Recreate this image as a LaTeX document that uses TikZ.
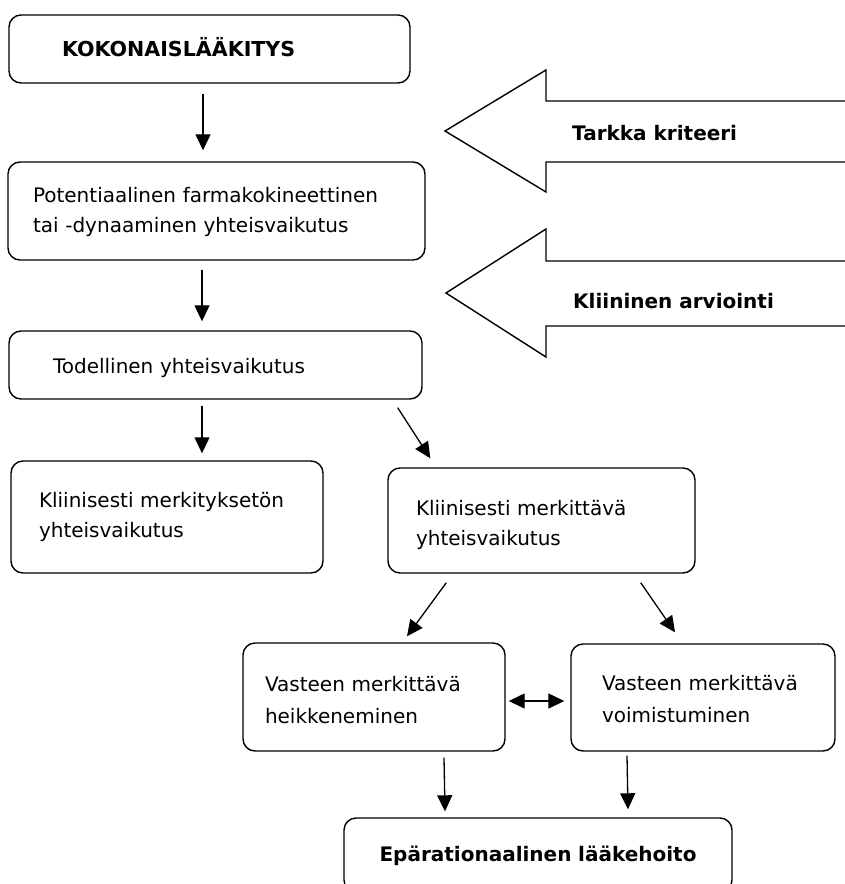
\documentclass[tikz,border=0pt]{standalone}
\usepackage{fontspec}
\setmainfont{DejaVu Sans}
\usetikzlibrary{arrows.meta}
\newcommand{\bodyfont}[1]{\fontsize{20}{#1}\selectfont}
\begin{document}
\begin{tikzpicture}[x=1pt,y=-1pt,
  box/.style={draw, line width=1.4pt, rounded corners=12pt, align=left, inner ysep=0pt, font=\bodyfont{30}},
  conn/.style={-{Triangle[length=16pt,width=15pt]}, line width=1.3pt},
  dconn/.style={{Triangle[length=16pt,width=15pt]}-{Triangle[length=16pt,width=15pt]}, line width=1.3pt},
  bigarrow/.style={draw, line width=1.4pt, line join=miter},
  lbl/.style={font=\bfseries\bodyfont{24}, anchor=west, inner sep=0pt}]
\useasboundingbox (0,0) rectangle (845,884);
\clip (0,0) rectangle (845,884);

% big arrows
\draw[bigarrow] (850,101) -- (546,101) -- (546,70) -- (445,131) -- (546,192) -- (546,162) -- (850,162);
\draw[bigarrow] (850,261) -- (546,261) -- (546,229) -- (446,293) -- (546,357) -- (546,326) -- (850,326);
\node[lbl] (t1) at (572,133) {Tarkka kriteeri};
\node[lbl] (t2) at (573,301) {Kliininen arviointi};

% boxes
\node[box, font=\bfseries\fontsize{20.6}{24}\selectfont, text height=14pt, text depth=0pt, minimum width=401pt, minimum height=68pt, text width=295pt, inner xsep=53pt] (b1) at (209.5,49) {KOKONAISLÄÄKITYS};
\node[box, text height=17pt, text depth=35pt, minimum width=417pt, minimum height=98pt, text width=367pt, inner xsep=25pt] (b2) at (216.5,211) {Potentiaalinen farmakokineettinen\\tai -dynaaminen yhteisvaikutus};
\node[box, text height=21pt, text depth=5pt, minimum width=413pt, minimum height=68pt, text width=325pt, inner xsep=44pt] (b3) at (215.5,365) {Todellinen yhteisvaikutus};
\node[box, text height=15pt, text depth=35pt, minimum width=312pt, minimum height=112pt, text width=256pt, inner xsep=28pt] (b4) at (167,517) {Kliinisesti merkityksetön\\yhteisvaikutus};
\node[box, text height=24pt, text depth=35pt, minimum width=307pt, minimum height=105pt, text width=251pt, inner xsep=28pt] (b5) at (541.5,520.5) {Kliinisesti merkittävä\\yhteisvaikutus};
\node[box, font=\bodyfont{32}, text height=25pt, text depth=37pt, minimum width=262pt, minimum height=108pt, text width=218pt, inner xsep=22pt] (b6) at (374,697) {Vasteen merkittävä\\heikkeneminen};
\node[box, font=\bodyfont{32}, text height=22pt, text depth=37pt, minimum width=264pt, minimum height=107pt, text width=202pt, inner xsep=31pt] (b7) at (703,697.5) {Vasteen merkittävä\\voimistuminen};
\node[box, font=\bfseries\bodyfont{24}, align=center, text height=17pt, text depth=5pt, minimum width=388pt, minimum height=74pt, text width=340pt, inner xsep=24pt] (b8) at (538,855) {Epärationaalinen lääkehoito};

% connectors
\draw[conn] ([xshift=-6.5pt,yshift=-10pt]b1.south) -- ([xshift=-13.5pt,yshift=11pt]b2.north);
\draw[conn] ([xshift=-14.5pt,yshift=-9pt]b2.south) -- ([xshift=-13.5pt,yshift=9pt]b3.north);
\draw[conn] ([xshift=-13.5pt,yshift=-6pt]b3.south) -- ([xshift=35pt,yshift=7pt]b4.north);
\draw[conn] ([xshift=-25pt,yshift=-8pt]b3.south east) -- ([xshift=43pt,yshift=9pt]b5.north west);
\draw[conn] ([xshift=59pt,yshift=-9pt]b5.south west) -- ([xshift=33pt,yshift=6pt]b6.north);
\draw[conn] ([xshift=-55pt,yshift=-9pt]b5.south east) -- ([xshift=-28pt,yshift=11pt]b7.north);
\draw[dconn] ([xshift=3pt,yshift=-4pt]b6.east) -- ([xshift=-6pt,yshift=-3.5pt]b7.west);
\draw[conn] ([xshift=70pt,yshift=-6pt]b6.south) -- ([xshift=-93pt,yshift=6pt]b8.north);
\draw[conn] ([xshift=-76pt,yshift=-4pt]b7.south) -- ([xshift=90pt,yshift=8pt]b8.north);
\end{tikzpicture}
\end{document}
